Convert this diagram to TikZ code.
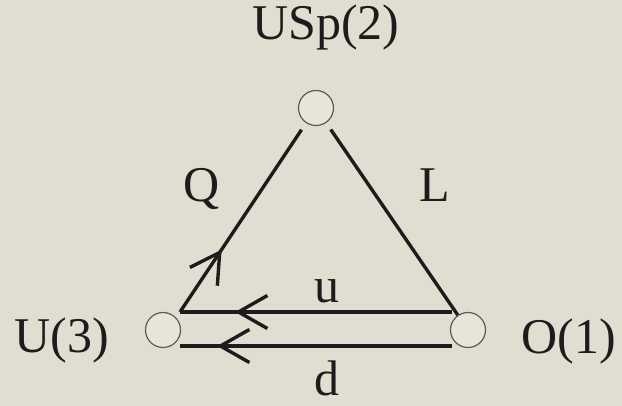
\documentclass[tikz,border=0pt]{standalone}
\usepackage{fontspec}
\setmainfont{Liberation Serif}
\usepackage{tikz}
\usetikzlibrary{arrows.meta, positioning, decorations.markings}
\definecolor{paper}{HTML}{E1DED1}
\definecolor{ink}{HTML}{1C1C1C}
\definecolor{ringgray}{HTML}{5A5A5A}
\tikzset{
  group/.style={
    circle, minimum size=17.5pt, inner sep=0pt,
    draw=ringgray, line width=0.6pt,
    fill=paper!80!white,
  },
  grpname/.style={
    anchor=base, inner sep=0pt,
    text=ink, font=\fontsize{25}{30}\selectfont,
  },
  field/.style={line width=1.7pt, draw=ink},
  flow/.style={
    postaction={decorate},
    decoration={markings, mark=at position #1 with
      {\arrow{Straight Barb[length=14.5pt, width=16.5pt, line width=1.7pt]}}},
  },
}

\begin{document}
\begin{tikzpicture}[x=0.5pt, y=-0.5pt]

  \fill[paper] (0,0) rectangle (622,406);
  \useasboundingbox (0,0) rectangle (622,406);

  % gauge groups
  \node[group] (usp) at (316,108) {};
  \node[group] (uthree) at (163,330) {};
  \node[group] (oone) at (468,330) {};

  \coordinate (uL) at (180,312);
  \coordinate (uR) at (452,312);
  \coordinate (dL) at (180,346);
  \coordinate (dR) at (452,346);

  % names
  \node[grpname] (uspName) at (326,40) {USp(2)};
  \node[grpname] (uthreeName) at (62,353) {U(3)};
  \node[grpname] (ooneName) at (569,354) {O(1)};

  % fields
  \draw[field, flow=37.5pt, shorten >=4pt] (uL) -- (usp);
  \draw[field, shorten <=4pt] (usp) -- (oone);
  \draw[field, flow=108.5pt] (uR) -- (uL);
  \draw[field, flow=117.5pt] (dR) -- (dL);

  \node[grpname] (qName) at (202,202) {Q};
  \node[grpname] (lName) at (435,202) {L};
  \node[grpname] (uName) at (327,303) {u};
  \node[grpname] (dName) at (327,396) {d};

\end{tikzpicture}
\end{document}
